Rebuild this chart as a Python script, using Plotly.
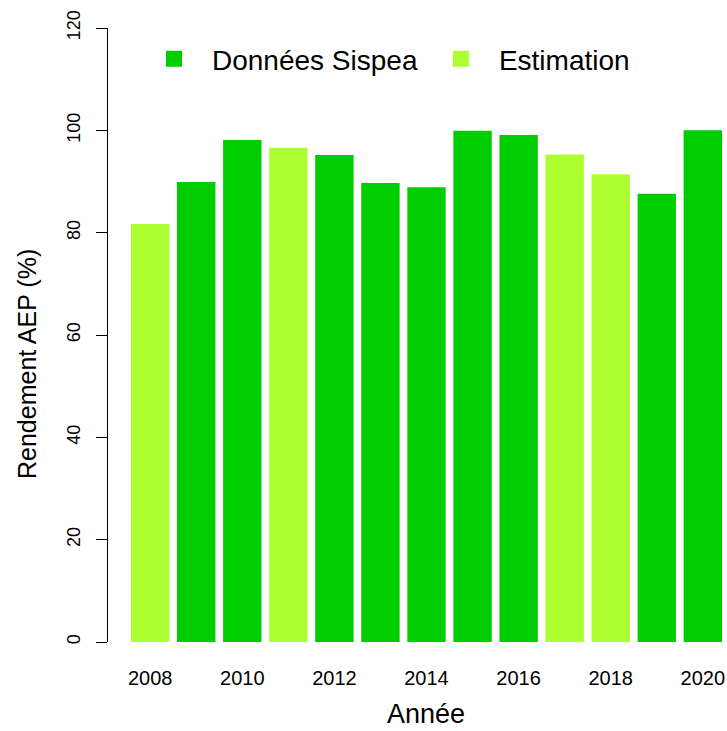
import plotly.graph_objects as go

# Rendement du réseau d'eau potable par année
annees = [2008, 2009, 2010, 2011, 2012, 2013, 2014, 2015, 2016, 2017, 2018, 2019, 2020]
rendement = [81.7, 89.9, 98.1, 96.6, 95.2, 89.7, 88.9, 99.9, 99.1, 95.3, 91.4, 87.6, 100.0]
source = ["Estimation", "Sispea", "Sispea", "Estimation", "Sispea", "Sispea", "Sispea",
          "Sispea", "Sispea", "Estimation", "Estimation", "Sispea", "Sispea"]

series_labels = {"Sispea": "Données Sispea", "Estimation": "Estimation"}
series_colors = {"Sispea": "#00CD00", "Estimation": "#ADFF2F"}

y_ticks = [0, 20, 40, 60, 80, 100, 120]
x_ticks = [2008, 2010, 2012, 2014, 2016, 2018, 2020]

FONT = "Liberation Sans, Arial, Helvetica, sans-serif"

fig = go.Figure()

for key in ["Sispea", "Estimation"]:
    xs = [a for a, s in zip(annees, source) if s == key]
    ys = [v for v, s in zip(rendement, source) if s == key]
    fig.add_trace(go.Bar(
        x=xs, y=ys, marker=dict(color=series_colors[key], line=dict(width=0)),
        showlegend=False, hoverinfo="x+y",
    ))
    # legend entry with a larger square swatch
    fig.add_trace(go.Scatter(
        x=[None], y=[None], mode="markers", name=series_labels[key],
        marker=dict(symbol="square", size=16, color=series_colors[key]),
    ))

W, H = 727, 731
ml, mr, mt, mb = 108, 0, 28, 89
pw, ph = W - ml - mr, H - mt - mb

fig.update_layout(
    width=W, height=H,
    margin=dict(l=ml, r=mr, t=mt, b=mb),
    paper_bgcolor="white", plot_bgcolor="white",
    barmode="overlay", bargap=1/6,
    font=dict(family=FONT, color="black"),
    legend=dict(
        orientation="h", x=(136 - ml) / pw, y=0.99, xanchor="left", yanchor="top",
        font=dict(size=28, family=FONT), itemwidth=66,
        bgcolor="rgba(0,0,0,0)",
    ),
    xaxis=dict(
        range=[2007.084, 2020.525], tickvals=x_ticks,
        ticktext=[str(t) for t in x_ticks],
        showline=False, showgrid=False, zeroline=False, ticks="",
        tickfont=dict(size=20, family=FONT), ticklabelstandoff=22,
    ),
    yaxis=dict(
        range=[0, 120], tickvals=y_ticks, showgrid=False, zeroline=False,
        showline=True, linecolor="black", linewidth=1,
        ticks="outside", ticklen=11, tickcolor="black", tickwidth=1,
        tickangle=-90, tickfont=dict(size=18, family=FONT),
        ticklabelstandoff=9,
    ),
)

# axis titles placed in page pixel coordinates
fig.add_annotation(
    text="Année", x=(426 - ml) / pw, y=(H - mb - 731) / ph,
    xref="paper", yref="paper", xanchor="center", yanchor="bottom",
    showarrow=False, font=dict(size=27, family=FONT),
)
fig.add_annotation(
    text="Rendement AEP (%)", x=(27 - ml) / pw, y=(H - mb - 364) / ph,
    xref="paper", yref="paper", xanchor="center", yanchor="middle",
    textangle=-90, showarrow=False, font=dict(size=25, family=FONT),
)

fig.write_html("out.html")
